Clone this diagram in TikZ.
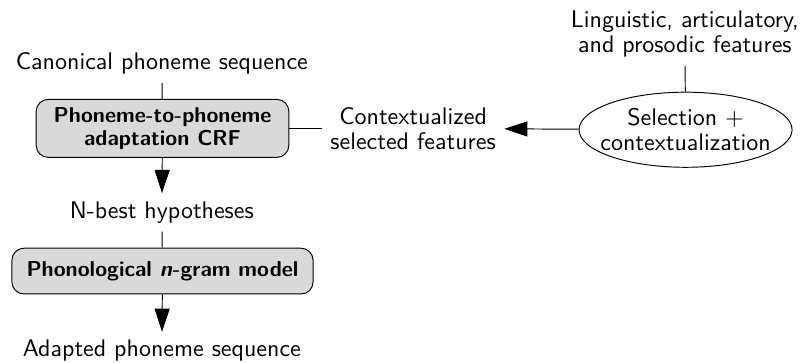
\documentclass[tikz,border=0pt]{standalone}
\usepackage{fontspec}
\renewcommand{\familydefault}{\sfdefault}
\usepackage{tikz}
\usetikzlibrary{arrows.meta,shapes.geometric}

\tikzset{
	blockbox/.style={draw, rounded corners=5pt, fill=gray!30, font=\small\bfseries, align=center},
	flowarrow/.style={-{Triangle[length=0.34cm,width=0.22cm]}},
}

\begin{document}
\begin{tikzpicture}
				\useasboundingbox (0,0) rectangle (11.76,-5.31);
				\node (canon) at (2.37,-0.93) {Canonical phoneme sequence};
				\node[blockbox, minimum width=3.70cm, minimum height=0.81cm] (crf) at (2.38,-1.88) {Phoneme-to-phoneme\\[-1.5pt]adaptation CRF};
				\node (nbest) at (2.37,-3.11) {N-best hypotheses};
				\node[blockbox, minimum width=4.41cm, minimum height=0.67cm] (ngram) at (2.38,-3.97) {Phonological \textit{n}-gram model};
				\node (adapted) at (2.37,-5.14) {Adapted phoneme sequence};
				\node[align=center] (ctx) at (6.05,-1.88) {Contextualized\\[-1.6pt]selected features};
				\node[draw, ellipse, align=center, inner xsep=-8pt, inner ysep=-3pt, minimum width=3.12cm, minimum height=1.1cm] (sel) at (10.04,-1.9) {Selection $+$\\[-1.6pt]contextualization};
				\node[align=center] (ling) at (10.03,-0.5) {Linguistic, articulatory,\\[-1.6pt]and prosodic features};
				\draw (canon) -- (crf);
				\draw[flowarrow] (crf) -- (nbest);
				\draw (nbest) -- (ngram);
				\draw[flowarrow] (ngram) -- (adapted);
				\draw (crf) -- (ctx);
				\draw[flowarrow] (sel) -- (ctx);
				\draw (ling) -- (sel);
			\end{tikzpicture}
\end{document}
